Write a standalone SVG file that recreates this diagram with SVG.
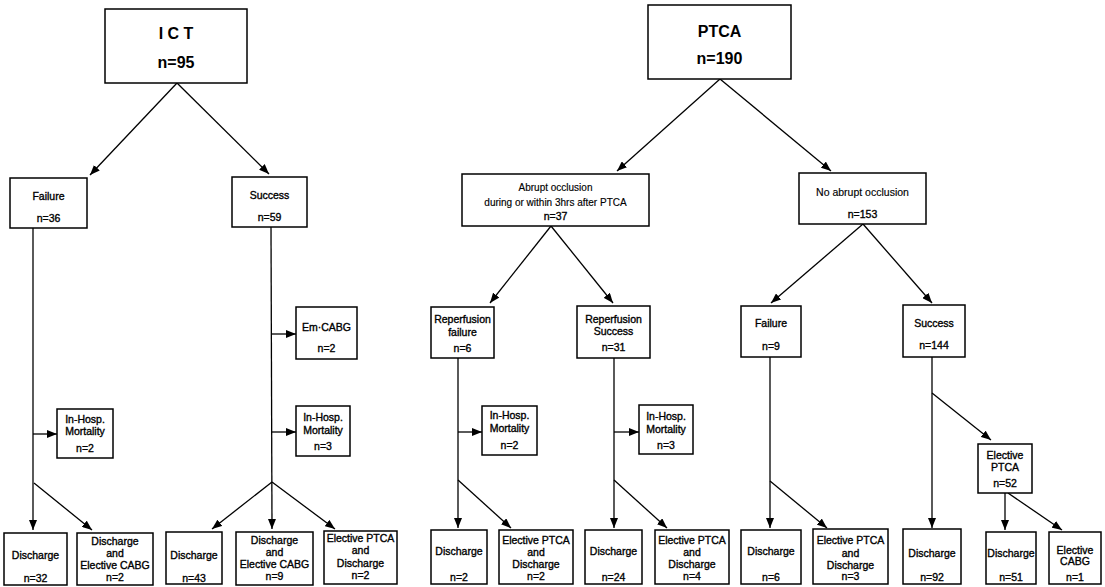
<svg xmlns="http://www.w3.org/2000/svg" width="1105" height="587" viewBox="0 0 1105 587">
<style>
rect{fill:#fff;stroke:#000;stroke-width:1.5}
text{font-family:"Liberation Sans",Arial,sans-serif;font-size:10.5px;font-weight:normal;text-anchor:middle;fill:#000;stroke:#000;stroke-width:0.35}
text.big{font-size:16px;font-weight:bold;stroke-width:0}
text.thin{font-size:10px;stroke-width:0.15}
#connectors line{stroke:#000;stroke-width:1.3;fill:none}
#connectors line.a{marker-end:url(#ah)}
</style>
<defs>
<marker id="ah" markerUnits="userSpaceOnUse" markerWidth="10" markerHeight="8" refX="10" refY="4" orient="auto">
<path d="M0,0 L10,4 L0,8 z" fill="#000"/>
</marker>
</defs>
<rect x="0" y="0" width="1105" height="587" style="stroke:none"/>
<g id="connectors">
<line class="a" x1="177" y1="83" x2="90" y2="175"/>
<line class="a" x1="177" y1="83" x2="269" y2="174"/>
<line class="a" x1="33" y1="228" x2="33" y2="530"/>
<line class="a" x1="33" y1="434" x2="57" y2="434"/>
<line class="a" x1="34" y1="483" x2="92" y2="530"/>
<line class="a" x1="271" y1="227" x2="272" y2="529"/>
<line class="a" x1="272" y1="334" x2="296" y2="334"/>
<line class="a" x1="272" y1="432" x2="296" y2="432"/>
<line class="a" x1="272" y1="482" x2="212" y2="529"/>
<line class="a" x1="272" y1="482" x2="335" y2="529"/>
<line class="a" x1="720" y1="79" x2="617" y2="171"/>
<line class="a" x1="720" y1="79" x2="831" y2="171"/>
<line class="a" x1="551" y1="226" x2="490" y2="303"/>
<line class="a" x1="551" y1="226" x2="613" y2="303"/>
<line class="a" x1="458" y1="358" x2="458" y2="528"/>
<line class="a" x1="458" y1="432" x2="482" y2="432"/>
<line class="a" x1="458" y1="480" x2="511" y2="528"/>
<line class="a" x1="614" y1="358" x2="614" y2="528"/>
<line class="a" x1="614" y1="432" x2="639" y2="432"/>
<line class="a" x1="614" y1="480" x2="667" y2="528"/>
<line class="a" x1="863" y1="224" x2="771" y2="303"/>
<line class="a" x1="863" y1="224" x2="932" y2="303"/>
<line class="a" x1="770" y1="357" x2="770" y2="528"/>
<line class="a" x1="770" y1="481" x2="827" y2="528"/>
<line class="a" x1="932" y1="357" x2="932" y2="528"/>
<line class="a" x1="932" y1="393" x2="991" y2="440"/>
<line class="a" x1="1005" y1="493" x2="1005" y2="530"/>
<line class="a" x1="1008" y1="493" x2="1062" y2="530"/>
</g>
<g id="ict"><rect x="105" y="9" width="142" height="74"/><text class="big" x="176" y="39">I C T</text><text class="big" x="176" y="68">n=95</text></g>
<g id="ict-failure"><rect x="10" y="178" width="77" height="50"/><text x="48.5" y="200">Failure</text><text x="48.5" y="222">n=36</text></g>
<g id="ict-success"><rect x="232" y="177" width="75" height="50"/><text x="269.5" y="199">Success</text><text x="269.5" y="221">n=59</text></g>
<g id="ict-f-mort"><rect x="57" y="409" width="56" height="49"/><text x="85" y="423">In-Hosp.</text><text x="85" y="435">Mortality</text><text x="85" y="452">n=2</text></g>
<g id="ict-emcabg"><rect x="296" y="307" width="61" height="52"/><text x="326.5" y="331">Em·CABG</text><text x="326.5" y="352">n=2</text></g>
<g id="ict-s-mort"><rect x="296" y="406" width="54" height="50"/><text x="323" y="421">In-Hosp.</text><text x="323" y="434">Mortality</text><text x="323" y="450">n=3</text></g>
<g id="ict-f-dis"><rect x="4" y="533" width="63" height="52"/><text x="35.5" y="559">Discharge</text><text x="35.5" y="582">n=32</text></g>
<g id="ict-f-cabg"><rect x="77" y="533" width="76" height="52"/><text x="115" y="545">Discharge</text><text x="115" y="557">and</text><text x="115" y="569">Elective CABG</text><text x="115" y="581">n=2</text></g>
<g id="ict-s-dis"><rect x="166" y="532" width="56" height="52"/><text x="194" y="559">Discharge</text><text x="194" y="582">n=43</text></g>
<g id="ict-s-cabg"><rect x="236" y="532" width="77" height="53"/><text x="274.5" y="544">Discharge</text><text x="274.5" y="556">and</text><text x="274.5" y="568">Elective CABG</text><text x="274.5" y="580">n=9</text></g>
<g id="ict-s-ptca"><rect x="324" y="531" width="73" height="53"/><text x="360.5" y="542">Elective PTCA</text><text x="360.5" y="554">and</text><text x="360.5" y="567">Discharge</text><text x="360.5" y="579">n=2</text></g>
<g id="ptca"><rect x="648" y="5" width="143" height="74"/><text class="big" x="719.5" y="37">PTCA</text><text class="big" x="719.5" y="64">n=190</text></g>
<g id="abrupt"><rect x="462" y="174" width="187" height="52"/><text class="thin" x="555.5" y="190.5">Abrupt occlusion</text><text class="thin" x="555.5" y="205.5">during or within 3hrs after PTCA</text><text x="555.5" y="220">n=37</text></g>
<g id="noabrupt"><rect x="799" y="173" width="127" height="51"/><text class="thin" x="862.5" y="196" style="font-size:10.5px">No abrupt occlusion</text><text x="862.5" y="218">n=153</text></g>
<g id="rep-fail"><rect x="431" y="307" width="63" height="51"/><text x="462.5" y="323">Reperfusion</text><text x="462.5" y="336">failure</text><text x="462.5" y="352">n=6</text></g>
<g id="rep-succ"><rect x="577" y="306" width="73" height="52"/><text x="613.5" y="323">Reperfusion</text><text x="613.5" y="335">Success</text><text x="613.5" y="351">n=31</text></g>
<g id="rf-mort"><rect x="482" y="406" width="55" height="49"/><text x="509.5" y="419">In-Hosp.</text><text x="509.5" y="432">Mortality</text><text x="509.5" y="449">n=2</text></g>
<g id="rs-mort"><rect x="639" y="405" width="54" height="49"/><text x="666" y="420">In-Hosp.</text><text x="666" y="433">Mortality</text><text x="666" y="449">n=3</text></g>
<g id="na-fail"><rect x="741" y="306" width="60" height="51"/><text x="771" y="327">Failure</text><text x="771" y="350">n=9</text></g>
<g id="na-succ"><rect x="903" y="305" width="62" height="52"/><text x="934" y="327">Success</text><text x="934" y="349">n=144</text></g>
<g id="na-eptca"><rect x="978" y="444" width="54" height="49"/><text x="1005" y="459">Elective</text><text x="1005" y="471">PTCA</text><text x="1005" y="487">n=52</text></g>
<g id="rf-dis"><rect x="431" y="530" width="56" height="54"/><text x="459" y="555">Discharge</text><text x="459" y="581">n=2</text></g>
<g id="rf-ptca"><rect x="499" y="530" width="74" height="54"/><text x="536" y="544">Elective PTCA</text><text x="536" y="556">and</text><text x="536" y="568">Discharge</text><text x="536" y="580">n=2</text></g>
<g id="rs-dis"><rect x="585" y="530" width="57" height="54"/><text x="613.5" y="555">Discharge</text><text x="613.5" y="581">n=24</text></g>
<g id="rs-ptca"><rect x="655" y="530" width="74" height="54"/><text x="692" y="544">Elective PTCA</text><text x="692" y="556">and</text><text x="692" y="568">Discharge</text><text x="692" y="580">n=4</text></g>
<g id="nf-dis"><rect x="741" y="530" width="60" height="54"/><text x="771" y="555">Discharge</text><text x="771" y="581">n=6</text></g>
<g id="nf-ptca"><rect x="813" y="529" width="75" height="55"/><text x="850.5" y="544">Elective PTCA</text><text x="850.5" y="557">and</text><text x="850.5" y="569">Discharge</text><text x="850.5" y="580">n=3</text></g>
<g id="ns-dis"><rect x="903" y="529" width="58" height="55"/><text x="932" y="557">Discharge</text><text x="932" y="581">n=92</text></g>
<g id="ne-dis"><rect x="986" y="532" width="50" height="52"/><text x="1011" y="557">Discharge</text><text x="1011" y="581">n=51</text></g>
<g id="ne-cabg"><rect x="1049" y="532" width="52" height="52"/><text x="1075" y="554">Elective</text><text x="1075" y="565">CABG</text><text x="1075" y="581">n=1</text></g>
</svg>
